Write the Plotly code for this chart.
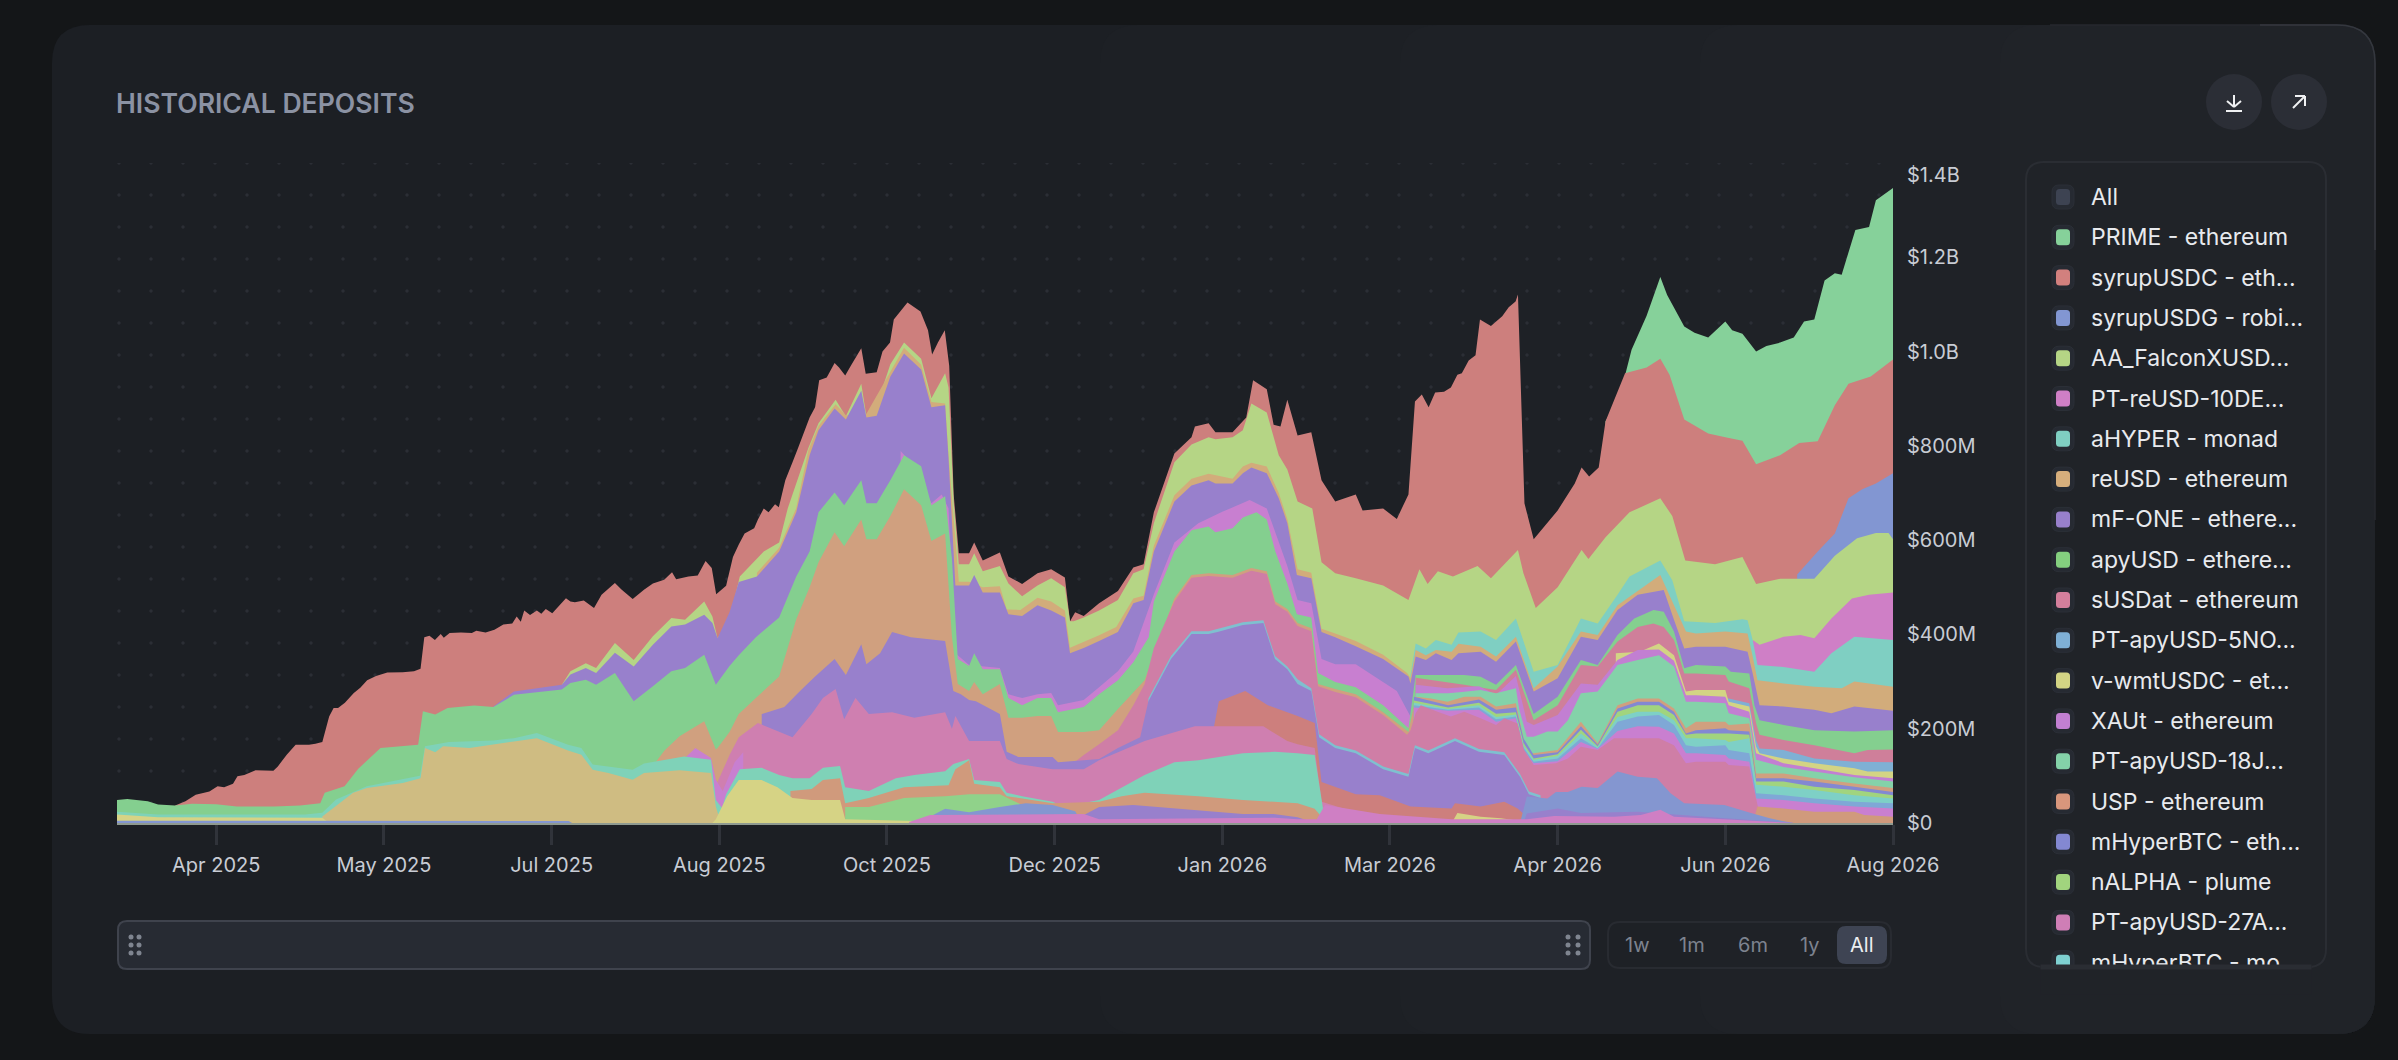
#!/usr/bin/env python
# -*- coding: utf-8 -*-
import numpy as np
import pandas as pd
import plotly.graph_objects as go

W, H = 2398, 1060
START = '2025-03-04'
END = '2026-08-05'
FONT = 'Inter'

tick_dates = ['2025-04-02', '2025-05-21', '2025-07-09', '2025-08-27', '2025-10-15', '2025-12-03',
              '2026-01-21', '2026-03-11', '2026-04-29', '2026-06-17', '2026-08-05']
tick_labels = ['Apr 2025', 'May 2025', 'Jul 2025', 'Aug 2025', 'Oct 2025', 'Dec 2025',
               'Jan 2026', 'Mar 2026', 'Apr 2026', 'Jun 2026', 'Aug 2026']
y_ticks = [0, 200, 400, 600, 800, 1000, 1200]
y_labels = ['$0', '$200M', '$400M', '$600M', '$800M', '$1.0B', '$1.2B']

legend_names = ['All', 'PRIME - ethereum', 'syrupUSDC - eth...', 'syrupUSDG - robi...', 'AA_FalconXUSD...',
                'PT-reUSD-10DE...', 'aHYPER - monad', 'reUSD - ethereum', 'mF-ONE - ethere...', 'apyUSD - ethere...',
                'sUSDat - ethereum', 'PT-apyUSD-5NO...', 'v-wmtUSDC - et...', 'XAUt - ethereum', 'PT-apyUSD-18J...',
                'USP - ethereum', 'mHyperBTC - eth...', 'nALPHA - plume', 'PT-apyUSD-27A...', 'mHyperBTC - mo']
legend_colors = ['#3d4352', '#86d19a', '#d2807e', '#8296d2', '#b5d585', '#cf7fc6', '#7fcfc2', '#d6ae7c', '#9880cc',
                 '#84cf7f', '#d47f9c', '#7fb0d6', '#d3d484', '#c27fd2', '#84d2a9', '#d8967c', '#8388d2', '#a1d47e',
                 '#cf7eb6', '#7ed0d1']

# the tops of the stacked bands, in $M at days since START
prime_days = [435, 439, 442.6, 447, 451, 453, 458, 461, 465, 470, 472, 475, 479, 482, 486, 490, 493, 496, 499, 502,
              504, 508, 512, 514, 519]
prime_tops = [852, 901, 1004, 1076, 1158, 1120, 1053, 1040, 1030, 1064, 1045, 1038, 1000, 1012, 1019, 1030, 1064, 1068,
              1151, 1166, 1163, 1258, 1264, 1321, 1347]
syrup_usdc_days = [17, 20, 23, 27, 29.4, 31.3, 33.9, 35.2, 37.2, 40.5,
                   45.7, 47, 49.6, 52.2, 56.1, 58, 60, 62, 63.3, 64.6,
                   66.6, 69.2, 71.1, 73.1, 75.7, 79, 83.5, 86.8, 88.7, 89.8,
                   91.3, 92.9, 94.6, 95.5, 97.2, 100.5, 103.7, 105, 107.7, 110.3,
                   112.9, 115.5, 116.8, 118, 119, 120.7, 122.7, 124, 125.3, 127.2,
                   131.2, 132.5, 133.8, 136.4, 139.4, 141.6, 145.5, 147.5, 150.7, 154,
                   156.6, 159.9, 162.2, 163.4, 167, 169.7, 172, 173.8, 175.1, 178,
                   180, 181.7, 183.4, 186.2, 187.3, 189, 190.4, 192.3, 193.4, 195.3,
                   197.4, 199, 202.4, 204, 205.2, 207.4, 209.7, 211, 212.8, 214.7,
                   217.5, 218.8, 222, 223.7, 225.9, 227, 231, 234.8, 237, 238.2,
                   239.9, 241.9, 243.2, 244.5, 246, 249, 250.5, 253, 258, 260.5,
                   264.5, 269, 273, 277, 278.5, 280, 282.5, 287, 292.5, 297,
                   300, 303, 309, 314, 315, 319, 321, 326, 330, 332,
                   336, 338, 340, 342, 345, 349, 352, 356, 362, 364,
                   370, 374, 377.4, 379.3, 381.3, 383.3, 385.2, 387.8, 389.8, 391.7,
                   393, 395, 397, 398.3, 401.5, 404.8, 406.7, 408.7, 409.4, 411.3,
                   414, 421, 426, 428, 430.2, 433, 435, 440.7, 447, 451,
                   453.7, 458, 465, 470, 475, 479, 486, 491.6, 497, 502,
                   506, 512.5, 519]
syrup_usdc_tops = [37, 46, 60, 67, 78, 76, 83, 99, 102, 112,
                   111, 120, 145, 166, 166, 168, 172, 226, 244, 244,
                   255, 276, 287, 303, 312, 319, 320, 322, 327, 394,
                   397, 388, 401, 393, 403, 404, 403, 408, 404, 410,
                   421, 423, 438, 427, 451, 441, 451, 444, 454, 445,
                   477, 470, 468, 472, 456, 484, 509, 495, 475, 495,
                   508, 516, 532, 517, 523, 525, 556, 541, 485, 503,
                   564, 591, 614, 625, 644, 667, 659, 676, 670, 727,
                   765, 795, 860, 882, 939, 945, 976, 966, 949, 973,
                   1007, 953, 956, 1000, 1019, 1068, 1104, 1085, 1045, 994,
                   1019, 1045, 970, 697, 572, 572, 595, 557, 574, 523,
                   507, 530, 538, 521, 428, 447, 439, 466, 492, 542,
                   549, 659, 784, 818, 841, 848, 829, 829, 860, 939,
                   920, 845, 841, 898, 822, 829, 727, 682, 697, 663,
                   667, 645, 697, 894, 909, 882, 913, 915, 924, 951,
                   954, 981, 992, 1068, 1054, 1075, 1094, 1106, 1121, 678,
                   602, 663, 720, 754, 735, 754, 852, 954, 966, 985,
                   951, 856, 826, 818, 811, 761, 780, 806, 810, 886,
                   932, 947, 983]
syrup_usdg_days = [491, 497, 502, 506, 510, 514, 519]
syrup_usdg_tops = [527, 576, 614, 689, 708, 720, 742]
falcon_days = [130, 132.5, 137, 140, 145.5, 151, 156.6, 162, 166, 171.6,
               174, 175.5, 179, 182, 189, 193.5, 196, 202, 205, 210,
               213, 217.5, 219, 222, 226, 230, 235, 238, 242, 243,
               244.5, 246, 249, 250.5, 253, 258, 260.5, 264.5, 269, 273,
               277, 278.5, 279.6, 282.5, 287, 292.5, 297, 300, 303, 309,
               314, 319, 321, 326, 329, 331.5, 336, 339.5, 342, 345,
               349.3, 352, 356, 362, 370, 377.4, 380.6, 383, 386, 390.4,
               397.6, 401.5, 409.4, 411, 414.6, 421, 428, 430, 435, 442,
               451, 454.5, 458.3, 467, 475, 479, 486, 496, 502, 508.5,
               514, 517.7, 519]
falcon_tops = [293, 322, 339, 329, 382, 346, 396, 435, 431, 470,
               438, 392, 430, 523, 576, 595, 667, 795, 848, 898,
               863, 932, 863, 886, 973, 1019, 985, 901, 954, 924,
               682, 549, 549, 572, 534, 545, 508, 481, 504, 519,
               500, 428, 428, 436, 451, 473, 530, 538, 636, 765,
               803, 818, 814, 818, 833, 890, 871, 780, 750, 682,
               667, 553, 530, 519, 504, 473, 538, 507, 534, 523,
               545, 519, 579, 530, 456, 500, 579, 560, 606, 659,
               689, 651, 557, 549, 564, 507, 518, 518, 567, 604,
               615, 615, 602]
pt_reusd_days = [478, 480, 487, 492, 496, 501, 507, 512, 519]
pt_reusd_tops = [388, 378, 395, 399, 392, 434, 476, 484, 489]
ahyper_days = [378, 379.5, 382.5, 385.4, 390, 392, 398.5, 403, 408.8, 414,
               421, 427.8, 432.7, 438.5, 442, 451, 454.5, 458, 467, 475,
               476.5, 478, 479.4, 487, 496, 501, 507.7, 519]
ahyper_tops = [314, 381, 370, 388, 378, 404, 406, 388, 434, 321,
               335, 434, 423, 484, 523, 557, 515, 428, 424, 432,
               430, 388, 335, 331, 321, 360, 395, 388]
reusd_days = [187, 193.5, 198.5, 202, 205, 210, 213, 219, 226, 230, 235, 238,
              242, 243, 246, 249, 253, 258, 260, 264, 269, 273,
              277, 278.5, 287, 292, 297, 300, 303, 309, 314, 319,
              326, 329, 331.5, 336, 339.5, 342, 345, 349, 352, 356,
              362, 370, 377, 378, 379.5, 382.5, 385.4, 390, 392, 398.5,
              403, 408.8, 414, 421, 427.8, 432.7, 438.5, 451, 454.5, 458.5,
              461.4, 470, 476.5, 478, 479.4, 487, 496, 504, 507.7, 519]
reusd_tops = [531, 584, 668, 790, 842, 888, 865, 868, 957, 1008, 972, 893,
              890, 780, 512, 512, 500, 502, 453, 452, 478, 470,
              451, 372, 398, 416, 476, 482, 588, 695, 730, 741,
              730, 756, 764, 756, 700, 645, 538, 531, 412, 402,
              386, 357, 318, 307, 367, 356, 367, 363, 380, 374,
              353, 395, 286, 332, 406, 399, 462, 526, 470, 406,
              402, 406, 402, 353, 303, 296, 289, 286, 300, 289]
mf_one_days = [110, 116, 130, 132.5, 137, 140, 145.5, 151, 156.6, 162,
               166, 171.6, 174, 175.5, 179, 181.7, 187, 193.5, 198.5, 202.4,
               205, 209.7, 213, 217.5, 219, 222, 226, 230, 235, 238,
               242, 243, 245, 249, 250.5, 253, 258, 260.5, 264.5, 269,
               273, 277, 278.5, 282.5, 287, 292.5, 297, 300, 303, 309,
               314, 319, 321, 326, 329, 331.5, 336, 339.5, 342, 344.8,
               349, 352, 356, 362, 370, 377.4, 378, 379.5, 382.5, 385.4,
               390, 392, 398.5, 403, 408.8, 414, 421, 427.8, 432.7, 438.5,
               444.4, 452, 455, 458, 461.4, 470, 476.5, 478, 480, 487,
               496, 501, 507.7, 519]
mf_one_tops = [247, 279, 293, 315, 329, 318, 361, 332, 378, 417,
               421, 442, 424, 392, 447, 511, 523, 576, 659, 780,
               833, 879, 856, 917, 860, 864, 947, 996, 962, 882,
               886, 773, 504, 504, 526, 489, 489, 443, 439, 462,
               451, 436, 360, 371, 386, 405, 466, 473, 576, 682,
               716, 727, 720, 720, 742, 754, 742, 689, 636, 526,
               519, 405, 394, 375, 348, 311, 296, 353, 346, 360,
               346, 360, 363, 342, 385, 279, 307, 395, 388, 452,
               484, 494, 431, 370, 374, 374, 363, 317, 250, 247,
               240, 233, 247, 238]
violet_top_days = [229, 233, 238, 241, 243, 245, 249, 258, 260.5, 264.5,
                   269, 273, 275, 282.5, 287, 292.5, 297, 303, 309, 316,
                   323, 331, 336, 339, 342, 345, 349, 352, 356, 362,
                   374, 378]
violet_top_tops = [789, 757, 678, 697, 667, 360, 335, 329, 273, 265,
                   273, 276, 250, 261, 288, 322, 364, 485, 595, 636,
                   660, 685, 667, 606, 545, 473, 466, 348, 337, 337,
                   280, 226]
apyusd_days = [0, 3, 9, 12, 17, 22, 29, 35, 46, 53.5,
               59.4, 60.7, 66.5, 70.5, 77, 88, 89.4, 93, 96.6, 104.4,
               110, 116, 130, 132.5, 137, 140, 145.5, 151, 156.6, 162,
               166, 171.6, 175, 179, 181.7, 186.7, 193.5, 198.5, 202.4, 205,
               209.7, 212.5, 217.5, 219, 222, 226, 230, 235, 238, 242,
               244, 245.7, 249, 250.5, 253, 258, 260.5, 264.5, 269, 273,
               275, 282.5, 287, 292.5, 297, 301.5, 303, 309, 314, 319,
               321, 326, 329, 333, 336, 338.5, 342, 344.8, 349, 351,
               356, 362, 370, 377.4, 379.5, 393.7, 398.5, 403, 408.8, 414,
               421, 427.8, 432.7, 438.5, 443.4, 449, 452, 455, 458, 461.4,
               470, 471.6, 477, 478.5, 480, 487, 496, 507.7, 519]
apyusd_tops = [49, 51, 46, 39, 37, 41, 40, 35, 35, 37,
               42, 64, 78, 115, 159, 166, 237, 230, 244, 249,
               246, 272, 283, 297, 304, 293, 318, 258, 290, 322,
               329, 357, 293, 333, 356, 394, 436, 523, 576, 659,
               701, 674, 727, 678, 678, 727, 780, 757, 674, 693,
               560, 348, 333, 360, 326, 326, 265, 250, 265, 265,
               235, 246, 273, 303, 341, 394, 470, 576, 621, 629,
               617, 625, 648, 659, 644, 576, 508, 443, 436, 318,
               299, 288, 250, 201, 314, 314, 310, 293, 335, 231,
               268, 346, 335, 399, 434, 452, 448, 406, 328, 335,
               332, 321, 317, 250, 218, 208, 197, 194, 197]
susdat_days = [379.5, 393.7, 403, 408.8, 414, 421, 427.8, 432.7, 438.5, 444.4,
               449, 452, 455, 458, 461.4, 470, 471, 477, 479, 480,
               487, 496, 507.7, 511.6, 519]
susdat_tops = [308, 293, 282, 325, 218, 250, 335, 332, 385, 416,
               423, 416, 388, 317, 317, 314, 300, 286, 211, 187,
               176, 165, 148, 155, 156]
pt_5no_days = [470.5, 471, 477, 479, 480, 487, 496, 507.7, 519]
pt_5no_tops = [264, 264, 254, 176, 158, 155, 137, 130, 129]
wmt_days = [438, 445, 450.6, 455, 458.5, 461.4, 470, 471, 477, 479,
            480, 487, 496, 507.7, 511.6, 519]
wmt_tops = [360, 363, 381, 356, 279, 282, 282, 257, 247, 162,
            148, 137, 127, 116, 109, 109]
xaut_days = [379.5, 388.8, 398, 403, 408.8, 412, 414, 421, 427.8, 432.7,
             438.5, 444.4, 450.6, 455, 458.5, 461.4, 470, 471, 477, 479,
             487, 496, 507.7, 519]
xaut_tops = [293, 286, 290, 272, 312, 215, 208, 229, 296, 293,
             346, 367, 368, 344, 271, 271, 268, 250, 236, 148,
             127, 116, 102, 95]
pt_18j_days = [379.5, 389, 393, 398.5, 403, 408.8, 409.8, 412, 414, 418,
               421, 424, 427.8, 432.7, 438.5, 444.4, 450.6, 455, 458.5, 461.4,
               470, 471, 477, 479, 487, 496, 507.7, 519]
pt_18j_tops = [275, 275, 278, 282, 275, 286, 240, 183, 183, 194,
               194, 218, 275, 279, 335, 346, 356, 332, 257, 257,
               254, 233, 222, 134, 119, 109, 97, 88]
usp_days = [157, 160, 164.4, 171.6, 175, 175.5, 179, 181.7, 186.7, 193.5,
            198.5, 202.4, 205, 209.7, 212.5, 217.5, 219, 222, 226, 230,
            235, 238, 242, 244, 245.7, 249, 250.5, 253, 258, 260.5,
            264.5, 269, 273, 275, 282.5, 287, 292.5, 300.3, 309, 314,
            319, 326, 331.5, 336, 338.5, 342, 345, 349, 351, 356,
            362, 370, 377.4, 379.5, 384, 388.8, 393.7, 398.5, 403, 408.8,
            412, 414, 421, 427.8, 432.7, 438.5, 444.4, 450.6, 455, 458.5,
            461.4, 470, 471, 477, 479, 487, 496, 507.7, 519]
usp_tops = [125, 154, 184, 216, 156, 159, 193, 231, 265, 311,
            432, 500, 553, 617, 587, 644, 602, 602, 651, 708,
            674, 598, 614, 394, 295, 280, 299, 273, 295, 223,
            223, 227, 227, 193, 193, 197, 242, 303, 477, 526,
            530, 526, 541, 534, 470, 454, 424, 413, 295, 284,
            273, 235, 193, 268, 264, 257, 268, 268, 247, 254,
            148, 148, 155, 215, 169, 250, 264, 264, 243, 201,
            215, 215, 208, 211, 105, 105, 95, 84, 74]
stripe_days = [379, 389, 398, 403, 408.8, 411, 414, 421, 427.8, 432.7,
               438.5, 444.4, 450.6, 455, 458.5, 461.4, 470, 471, 477, 479,
               487, 496, 507.7, 519]
mhyper_eth_tops = [268, 250, 262, 240, 245, 180, 144, 150, 205, 166,
                   243, 257, 257, 236, 190, 197, 201, 197, 194, 95,
                   95, 88, 77, 66]
nalpha_tops = [260, 245, 255, 232, 235, 170, 137, 146, 198, 163,
               236, 250, 250, 229, 187, 190, 190, 190, 187, 88,
               88, 77, 70, 59]
mhyper_mo_tops = [255, 242, 250, 225, 230, 165, 134, 142, 190, 161,
                  225, 236, 236, 218, 180, 180, 176, 172, 180, 81,
                  77, 70, 59, 52]
stripe_blue_tops = [250, 240, 245, 220, 226, 160, 130, 137, 180, 158,
                    215, 226, 229, 208, 165, 162, 165, 155, 148, 63,
                    59, 52, 45, 42]
stripe_pink_tops = [245, 238, 240, 215, 222, 155, 127, 131, 172, 157,
                    195, 205, 204, 190, 148, 148, 144, 137, 130, 52,
                    49, 42, 35, 31]
pt_27a_days = [280, 282.5, 287, 292.5, 297, 300.3, 303, 309, 314, 319,
               326, 331.5, 336, 338.5, 342, 345, 349, 351, 356, 362,
               370, 377, 378, 379.5, 381, 385.9, 389.8, 393.7, 398.5, 403,
               405.4, 409.3, 411.2, 414, 420.5, 424, 427.8, 432.7, 437.5, 444,
               450.6, 455, 458.5, 461.4, 470, 471, 477, 479.5, 482]
pt_27a_tops = [130, 144, 167, 197, 250, 295, 371, 470, 520, 524,
               520, 535, 528, 464, 448, 418, 407, 290, 278, 267,
               229, 187, 197, 233, 250, 236, 226, 236, 222, 208,
               222, 211, 155, 123, 127, 137, 162, 155, 180, 180,
               180, 165, 127, 130, 130, 123, 120, 35, 0]
thin_teal_days = [301.4, 308, 314, 319, 329, 335, 338.4, 342, 345, 349,
                  351.3, 356, 362, 370, 377.4, 379.3, 383.2, 391, 398, 405.4,
                  410, 412.6, 416]
thin_teal_tops = [264, 354, 407, 407, 426, 430, 354, 332, 305, 286,
                  188, 165, 154, 120, 104, 165, 154, 180, 157, 150,
                  104, 67, 59]
low_purple_days = [188.4, 195, 199.6, 204, 209.7, 213, 217.5, 219, 223, 226.5,
                   232, 242, 244.4, 246.6, 249, 251, 258, 260, 263.4, 273.4,
                   275, 282.5, 287, 292.5, 299, 301.4, 308, 314, 319, 321.6,
                   329, 335, 338.4, 342, 345, 349, 351.3, 356, 362, 370,
                   377.4, 379.3, 383.2, 391, 398, 405.4, 410, 412.6, 416, 420]
low_purple_tops = [231, 246, 280, 311, 348, 314, 379, 337, 360, 405,
                   394, 386, 280, 273, 261, 258, 231, 151, 140, 140,
                   129, 133, 136, 159, 182, 258, 348, 401, 401, 405,
                   420, 424, 348, 326, 295, 280, 182, 159, 148, 114,
                   98, 159, 148, 174, 151, 144, 98, 61, 53, 40]
low_red_days = [320.6, 322, 329.7, 336.3, 345, 350, 352, 362, 369, 378,
                390, 391, 398.5, 405.4, 409.3, 412, 420, 430]
low_red_tops = [205, 258, 280, 250, 227, 212, 87, 61, 59, 35,
                31, 42, 35, 45, 31, 13, 6, 0]
low_pink_days = [175.5, 179, 181.7, 187.3, 197.4, 203, 206.3, 210, 212.5, 215.8,
                 219.7, 226.5, 233, 242, 244, 245, 249, 258, 260, 263.4,
                 273.4, 282.5, 287, 300.3, 315, 321.6, 335, 342, 345, 350,
                 352, 362, 370, 390]
low_pink_tops = [87, 144, 182, 212, 182, 231, 265, 284, 220, 265,
                 231, 235, 223, 235, 200, 227, 174, 174, 136, 125,
                 114, 114, 133, 174, 205, 205, 205, 174, 167, 159,
                 45, 23, 15, 4]
low_violet_days = [166.4, 169, 173.6, 175, 177, 180.5, 183]
low_violet_tops = [141, 159, 138, 92, 68, 129, 150]
low_teal_days = [0, 12, 55, 60, 64, 73, 88.5, 90, 97, 110,
                 116, 122.7, 131.8, 135.7, 139, 150.7, 154, 165.7, 173.6, 175,
                 176.8, 178, 182, 188.4, 193.5, 197.4, 202.4, 206.3, 211.3, 212.8,
                 219.7, 227.6, 233, 242, 244.4, 249, 250.5, 258, 260, 264.5,
                 273.4, 276.8, 287, 300.3, 309, 316, 329, 338.4, 345, 350,
                 352.6, 354.5]
low_teal_tops = [24, 18, 18, 22, 50, 78, 100, 163, 172, 175,
                 180, 191, 166, 159, 124, 113, 126, 141, 134, 49,
                 32, 61, 114, 117, 102, 95, 95, 117, 121, 76,
                 68, 95, 102, 110, 125, 136, 91, 87, 64, 57,
                 45, 34, 49, 102, 129, 133, 148, 151, 148, 144,
                 23, 8]
low_orange_days = [196.8, 203, 206.3, 211.3, 212.8, 219.7, 230, 243, 245, 249,
                   250.5, 258, 260, 273.4, 287, 293.6, 300.3, 316, 329, 345,
                   350, 352.6, 478, 479.4, 487, 496, 507.7, 510.6, 519]
low_orange_tops = [68, 72, 91, 95, 42, 53, 76, 80, 114, 133,
                   83, 76, 57, 42, 45, 57, 64, 57, 49, 42,
                   30, 8, 0, 35, 31, 24, 24, 17, 13]
khaki_days = [60, 69, 73, 83.5, 88.7, 90, 93, 95.3, 103, 116,
              122.7, 131.8, 135.7, 139, 143.6, 150.7, 154, 164.4, 173.6, 175,
              176]
khaki_tops = [14, 64, 74, 85, 95, 159, 150, 163, 159, 173,
              180, 154, 145, 113, 106, 92, 106, 112, 106, 35,
              10]
low_green_days = [212.8, 219.7, 230, 242, 249, 258, 264.5, 273.4, 275]
low_green_tops = [34, 34, 53, 57, 61, 61, 38, 23, 8]
low_yellow_days = [0, 12, 60, 62, 174, 175, 178.3, 181.7, 188.4, 193,
                   197.4, 203, 211.3, 212.8, 233, 235, 389, 390.3, 391.7, 398.5,
                   404.4, 411.2, 412]
low_yellow_tops = [18, 12, 11, 0, 0, 8, 57, 91, 91, 76,
                   53, 49, 49, 8, 4, 0, 0, 3, 21, 13,
                   10, 3, 0]
low_periwinkle_days = [0, 132, 133, 234, 242, 249, 258, 265.6, 273.4, 280,
                       282, 410, 412, 418, 420.5, 424, 428, 432.7, 438.5, 444.4,
                       450, 454, 458, 469.7, 477.5, 483, 486.3, 490]
low_periwinkle_tops = [5, 4, 0, 0, 30, 23, 34, 42, 38, 25,
                       0, 0, 56, 52, 66, 66, 77, 74, 109, 98,
                       95, 63, 42, 38, 21, 10, 5, 0]
base_purple_days = [282, 287, 297, 329, 338, 345, 350, 411, 412, 421, 427.8, 444.4, 470, 490]
base_purple_tops = [15, 34, 38, 19, 19, 12, 0, 0, 20, 31, 21, 24, 10, 0]
base_pink_days = [231.5, 237.6, 282.5, 287, 338.4, 345, 350.6, 353, 369, 390,
                  412, 420, 437.5, 445.3, 451, 455, 475, 490]
base_pink_tops = [2, 17, 19, 8, 11, 8, 8, 38, 19, 8,
                  8, 15, 13, 17, 28, 13, 6, 0]

# painted from the top of the stack downwards, each band covers what lies under the one before
bands = [
    ('PRIME - ethereum', prime_days, prime_tops, '#86d19a'),
    ('syrupUSDC - ethereum', syrup_usdc_days, syrup_usdc_tops, '#cd7f7d'),
    ('syrupUSDG - robinhood', syrup_usdg_days, syrup_usdg_tops, '#8296d2'),
    ('AA_FalconXUSD', falcon_days, falcon_tops, '#b5d585'),
    ('PT-reUSD-10DE', pt_reusd_days, pt_reusd_tops, '#cf7fc6'),
    ('aHYPER - monad', ahyper_days, ahyper_tops, '#7fcfc2'),
    ('reUSD - ethereum', reusd_days, reusd_tops, '#d2ac7b'),
    ('mF-ONE - ethereum', mf_one_days, mf_one_tops, '#9880cc'),
    ('violet upper', violet_top_days, violet_top_tops, '#c87fd0'),
    ('apyUSD - ethereum', apyusd_days, apyusd_tops, '#84cf8f'),
    ('sUSDat - ethereum', susdat_days, susdat_tops, '#cf7f9a'),
    ('PT-apyUSD-5NO', pt_5no_days, pt_5no_tops, '#7fb0d4'),
    ('v-wmtUSDC', wmt_days, wmt_tops, '#d3d484'),
    ('XAUt - ethereum', xaut_days, xaut_tops, '#c27fd2'),
    ('PT-apyUSD-18J', pt_18j_days, pt_18j_tops, '#84d2a9'),
    ('USP - ethereum', usp_days, usp_tops, '#d0a07f'),
    ('mHyperBTC - ethereum', stripe_days, mhyper_eth_tops, '#8388d2'),
    ('nALPHA - plume', stripe_days, nalpha_tops, '#a1d47e'),
    ('mHyperBTC - monad', stripe_days, mhyper_mo_tops, '#7ed0c6'),
    ('stripe blue', stripe_days, stripe_blue_tops, '#7fa8d6'),
    ('stripe pink', stripe_days, stripe_pink_tops, '#c97fd0'),
    ('PT-apyUSD-27A', pt_27a_days, pt_27a_tops, '#cf7ea6'),
    ('thin teal', thin_teal_days, thin_teal_tops, '#7fc0cf'),
    ('low purple', low_purple_days, low_purple_tops, '#9880cc'),
    ('low red', low_red_days, low_red_tops, '#cd7f7d'),
    ('low pink', low_pink_days, low_pink_tops, '#cf7fb0'),
    ('low violet', low_violet_days, low_violet_tops, '#c87fd0'),
    ('low teal', low_teal_days, low_teal_tops, '#7fd2b8'),
    ('low orange', low_orange_days, low_orange_tops, '#d09a7c'),
    ('khaki', khaki_days, khaki_tops, '#cfbc82'),
    ('low green', low_green_days, low_green_tops, '#90d28a'),
    ('low yellow', low_yellow_days, low_yellow_tops, '#d6d385'),
    ('low periwinkle', low_periwinkle_days, low_periwinkle_tops, '#8496d0'),
    ('base purple', base_purple_days, base_purple_tops, '#9880cc'),
    ('base pink', base_pink_days, base_pink_tops, '#cf7fc4'),
]


def fx(x):
    return x / W


def fy(y):
    return 1 - y / H


def rrect(x0, y0, x1, y1, r, fill=None, line=None, width=0):
    a, b, c, d = fx(x0), fx(x1), fy(y0), fy(y1)
    rx, ry = r / W, r / H
    path = (f'M{a + rx},{c} L{b - rx},{c} Q{b},{c} {b},{c - ry} L{b},{d + ry} Q{b},{d} {b - rx},{d} '
            f'L{a + rx},{d} Q{a},{d} {a},{d + ry} L{a},{c - ry} Q{a},{c} {a + rx},{c} Z')
    return dict(type='path', path=path, xref='paper', yref='paper', layer='below',
                fillcolor=fill or 'rgba(0,0,0,0)', line=dict(color=line or 'rgba(0,0,0,0)', width=width))


def seg(x0, y0, x1, y1, color, width=2):
    return dict(type='line', xref='paper', yref='paper', x0=fx(x0), x1=fx(x1), y0=fy(y0), y1=fy(y1),
                line=dict(color=color, width=width), layer='above')


def dot(x, y, r, color):
    return dict(type='circle', xref='paper', yref='paper', x0=fx(x - r), x1=fx(x + r), y0=fy(y - r), y1=fy(y + r),
                fillcolor=color, line=dict(width=0), layer='above')


def corner(x0, y1, color, width):
    a, b, t, r = fx(x0), fx(2375), fy(25), fy(y1)
    return dict(type='path', xref='paper', yref='paper', layer='below', fillcolor='rgba(0,0,0,0)',
                path=f'M{a},{t} L{b - 38 / W},{t} Q{b},{t} {b},{t - 38 / H} L{b},{r}',
                line=dict(color=color, width=width))


def label(x, y, text, size=20, color='#c8ccd4', anchor='left', weight=400):
    return dict(x=fx(x), y=fy(y), xref='paper', yref='paper', text=text, showarrow=False, xanchor=anchor,
                yanchor='middle', font=dict(family=FONT, size=size, color=color, weight=weight))


start = pd.Timestamp(START)
fig = go.Figure()

# background dot grid, 32px apart on the plot area
px_per_day = (1893 - 117) / 519
px_per_m = 660 / 1400
gx = np.arange(119, 1893, 32)
gy = np.arange(163, 820, 32)
grid_x, grid_y = np.meshgrid((gx - 117) / px_per_day, (823 - gy) / px_per_m)
fig.add_trace(go.Scatter(x=start + pd.to_timedelta(grid_x.ravel(), unit='D'), y=grid_y.ravel(), mode='markers',
                         marker=dict(size=3.5, color='#2b2e35'), hoverinfo='skip', showlegend=False))

for name, days, tops, color in bands:
    assert len(days) == len(tops), name
    fig.add_trace(go.Scatter(x=start + pd.to_timedelta(days, unit='D'), y=tops, name=name, mode='none',
                             fill='tozeroy', fillcolor=color, showlegend=False,
                             hovertemplate='%{x|%b %Y}<br>$%{y}M<extra>' + name + '</extra>'))

shapes = [rrect(52, 25, 2375, 1034, 38, fill='#1c1f24')]
# the card gets a little lighter towards the right, in small steps
for x, shade in zip([1100, 1400, 1700, 2000], ['#1d2025', '#1e2126', '#1f2227', '#202328']):
    shapes.append(rrect(x, 25, 2375, 1034, 38, fill=shade))
# faint light edge round the top right corner
shapes += [
    corner(2050, 520, '#26292e', 1.5),
    corner(2260, 250, '#34373e', 1.5),
    rrect(2026, 162, 2326, 967, 18, line='#2a2d33', width=2),
    # range slider strip and period buttons
    rrect(118, 921, 1590, 969, 9, fill='#272b33', line='#3f434d', width=2),
    rrect(1608, 922, 1891, 968, 12, line='#282b31', width=2),
    rrect(1837, 926, 1887, 964, 9, fill='#3e4453'),
    # round buttons
    dict(type='circle', xref='paper', yref='paper', x0=fx(2206), x1=fx(2262), y0=fy(74), y1=fy(130),
         fillcolor='#2b2e36', line=dict(width=0), layer='below'),
    dict(type='circle', xref='paper', yref='paper', x0=fx(2271), x1=fx(2327), y0=fy(74), y1=fy(130),
         fillcolor='#2b2e36', line=dict(width=0), layer='below'),
    seg(2234, 95, 2234, 107, '#f0f1f3'),
    seg(2227, 101, 2234, 107, '#f0f1f3'),
    seg(2241, 101, 2234, 107, '#f0f1f3'),
    seg(2226, 111, 2242, 111, '#f0f1f3'),
    seg(2293, 108, 2305, 96, '#f0f1f3'),
    seg(2295, 96, 2305, 96, '#f0f1f3'),
    seg(2305, 96, 2305, 106, '#f0f1f3'),
]
for gx_ in (131, 139, 1568, 1578):
    for gy_ in (937, 945, 953):
        shapes.append(dot(gx_, gy_, 2.5, '#7f8590'))

annotations = [label(114, 103, 'HISTORICAL DEPOSITS', size=26.6, color='#8b92a3', weight=600),
               label(1905, 175, '$1.4B')]
for name, color, i in zip(legend_names, legend_colors, range(len(legend_names))):
    y = 197 + 40.3 * i
    shapes.append(rrect(2052, y - 12, 2074, y + 12, 7, fill='#262a32', line='#2b2f37', width=1))
    shapes.append(rrect(2056, y - 8, 2070, y + 8, 3.5, fill=color))
    annotations.append(label(2089, y, name, size=23, color='#e8eaee'))

# hide what runs past the bottom of the scrolling legend panel
annotations.append(dict(x=fx(2176), y=fy(980), xref='paper', yref='paper', text=' ', showarrow=False, width=268,
                        height=26, bgcolor='#202328', xanchor='center', yanchor='middle', font=dict(size=10)))
annotations.append(dict(x=fx(2176), y=fy(967), xref='paper', yref='paper', text=' ', showarrow=False, width=268,
                        height=2, bgcolor='#2a2d33', xanchor='center', yanchor='middle', font=dict(size=1)))

for text, x, color in zip(['1w', '1m', '6m', '1y', 'All'], [1637, 1692, 1753, 1809, 1862],
                          ['#7d838f', '#7d838f', '#7d838f', '#7d838f', '#eceef1']):
    annotations.append(label(x, 945, text, size=20, color=color, anchor='center'))

fig.update_layout(
    width=W, height=H, autosize=False, margin=dict(l=0, r=0, t=0, b=0),
    paper_bgcolor='#141618', plot_bgcolor='rgba(0,0,0,0)', showlegend=False,
    shapes=shapes, annotations=annotations,
    font=dict(family=FONT, size=20, color='#c8ccd4'),
    xaxis=dict(domain=[fx(117), fx(1893)], range=[START, END], type='date', tickmode='array', tickvals=tick_dates,
               ticktext=tick_labels, ticks='outside', ticklen=20, tickwidth=3, tickcolor='#30333a',
               showgrid=False, zeroline=False, showline=True, linecolor='#8f9a90', linewidth=2, automargin=False,
               tickfont=dict(family=FONT, size=20, color='#c8ccd4'), ticklabelstandoff=3),
    yaxis=dict(domain=[fy(823), fy(163)], range=[0, 1400], side='right', tickmode='array', tickvals=y_ticks,
               ticktext=y_labels, ticks='', showgrid=False, zeroline=False, showline=False, automargin=False,
               tickfont=dict(family=FONT, size=20, color='#c8ccd4'), ticklabelstandoff=13),
)

fig.write_html("out.html", config=dict(displayModeBar=False),
               post_script="document.body.style.margin='0';document.body.style.background='#141618';")
